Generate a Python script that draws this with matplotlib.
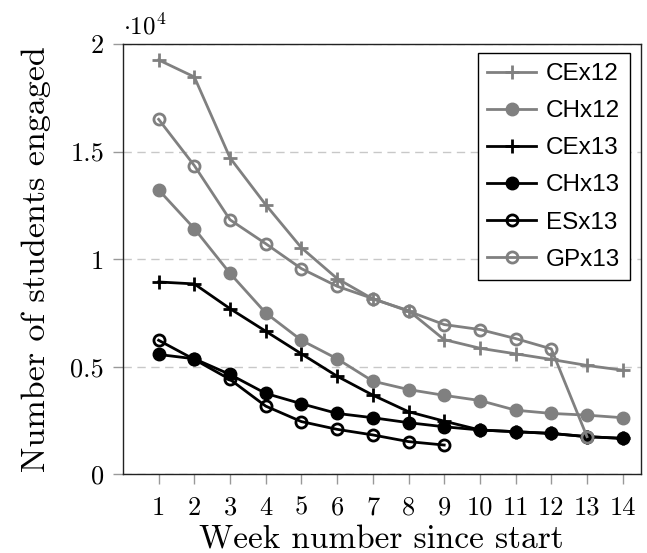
import matplotlib
matplotlib.use("Agg")
import matplotlib.pyplot as plt

weeks = list(range(1, 15))
ce12 = [1.926, 1.847, 1.471, 1.253, 1.053, 0.910, 0.815, 0.761, 0.626, 0.586, 0.560, 0.534, 0.506, 0.484]
ch12 = [1.322, 1.142, 0.934, 0.750, 0.623, 0.537, 0.433, 0.394, 0.367, 0.343, 0.298, 0.283, 0.275, 0.263]
ce13 = [0.894, 0.885, 0.770, 0.665, 0.560, 0.456, 0.368, 0.291, 0.247, 0.206, 0.198, 0.190, 0.175, 0.167]
ch13 = [0.557, 0.537, 0.464, 0.376, 0.328, 0.283, 0.263, 0.240, 0.221, 0.206, 0.198, 0.190, 0.175, 0.167]
es13 = [0.623, 0.534, 0.441, 0.317, 0.245, 0.209, 0.183, 0.152, 0.136]
gp13 = [1.650, 1.435, 1.183, 1.072, 0.956, 0.874, 0.817, 0.758, 0.696, 0.673, 0.631, 0.583, 0.175]
names = ["CEx12", "CHx12", "CEx13", "CHx13", "ESx13", "GPx13"]
yticks = [0, 0.5, 1, 1.5, 2]
ytick_labels = ["0", "0.5", "1", "1.5", "2"]

plt.rcParams['font.family'] = 'serif'
plt.rcParams['font.serif'] = ['cmr10', 'DejaVu Serif']
plt.rcParams['mathtext.fontset'] = 'cm'
plt.rcParams['axes.unicode_minus'] = False

fig = plt.figure(figsize=(6.47, 5.53), dpi=100)
ax = fig.add_axes([0.190, 0.1423, 0.800, 0.7781])

gray = '#808080'
lw = 2.0
ax.plot(weeks[:len(ce12)], ce12, color=gray, lw=lw, marker='+', ms=10, mew=2, label=names[0])
ax.plot(weeks[:len(ch12)], ch12, color=gray, lw=lw, marker='o', ms=9, label=names[1])
ax.plot(weeks[:len(ce13)], ce13, color='black', lw=lw, marker='+', ms=10, mew=2, label=names[2])
ax.plot(weeks[:len(ch13)], ch13, color='black', lw=lw, marker='o', ms=9, label=names[3])
ax.plot(weeks[:len(es13)], es13, color='black', lw=lw, marker='o', ms=8, mew=2, mfc='none', label=names[4])
ax.plot(weeks[:len(gp13)], gp13, color=gray, lw=lw, marker='o', ms=8, mew=2, mfc='none', label=names[5])

ax.set_xlim(0, 14.5)
ax.set_ylim(0, 2)
ax.set_xticks(weeks)
ax.set_xticklabels([str(w) for w in weeks], fontsize=19)
ax.set_yticks(yticks)
ax.set_yticklabels(ytick_labels, fontsize=19)
ax.tick_params(axis='both', direction='out', length=7.5, width=1, color='#999999')
ax.tick_params(axis='x', pad=8)
ax.tick_params(axis='y', pad=6)
for s in ax.spines.values():
    s.set_color('#222222')
    s.set_linewidth(1.0)
ax.yaxis.grid(True, linestyle=(0, (6, 4)), color='#c8c8c8', lw=1)
ax.set_axisbelow(True)

ax.set_xlabel("Week number since start", fontsize=24, labelpad=4)
ax.set_ylabel("Number of students engaged", fontsize=24.5, labelpad=14)
ax.text(0.0, 1.01, r'$\cdot 10^4$', transform=ax.transAxes, ha='left', va='bottom', fontsize=18)

leg = ax.legend(loc='upper right', bbox_to_anchor=(0.979, 0.978), borderaxespad=0,
                prop={'family': 'Liberation Sans', 'size': 17.5},
                frameon=True, fancybox=False, edgecolor='black', framealpha=1,
                handlelength=2.0, labelspacing=0.62, borderpad=0.4, handletextpad=0.4)
leg.get_frame().set_linewidth(1.0)

fig.savefig("out.png", dpi=100)
